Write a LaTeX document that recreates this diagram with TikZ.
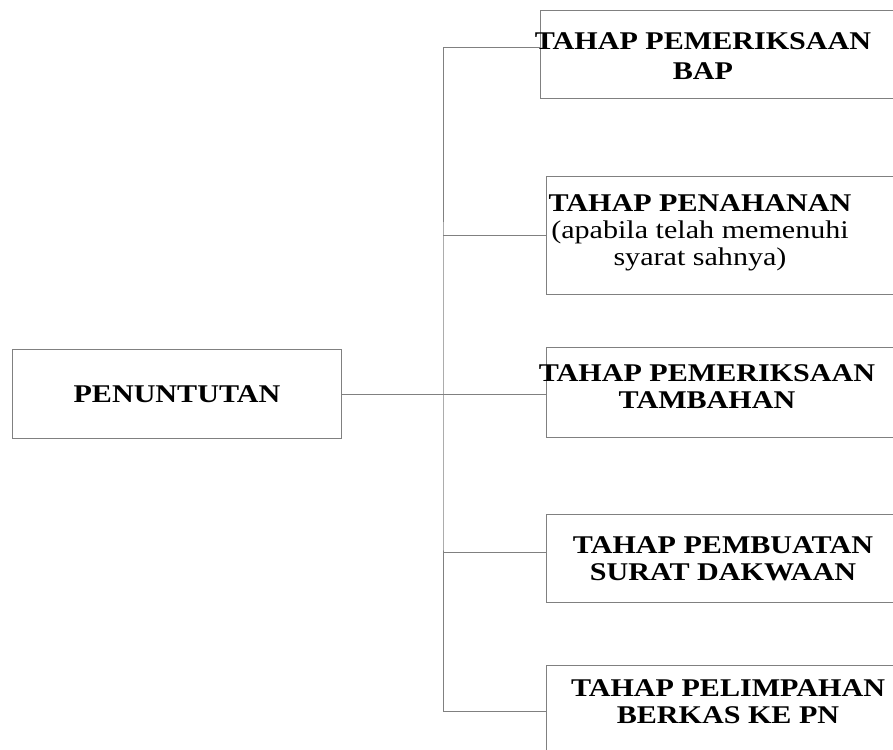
\documentclass[tikz,border=0pt]{standalone}
\usepackage{fontspec}
\setmainfont{Liberation Serif}[FakeStretch=1.18]
\usepackage{tikz}
\usetikzlibrary{positioning}
\definecolor{garisabu}{HTML}{808080}

\begin{document}
\begin{tikzpicture}[
  x=1pt, y=1pt,
  kotak/.style={draw=garisabu, line width=0.9pt, minimum width=364, inner sep=0pt, anchor=north west},
  teks/.style={align=center, font=\fontsize{25.5}{27}\selectfont, anchor=base, inner sep=0pt},
  garis/.style={draw=garisabu, line width=0.9pt}
]
  \useasboundingbox (0,0) rectangle (893,-749);
  \clip (0,0) rectangle (893,-749);

  % kotak kiri
  \node[kotak, minimum width=329, minimum height=89, font=\fontsize{25.5}{27}\selectfont\bfseries] (pnt) at (12,-349) {PENUNTUTAN};

  % kotak tahap (terpotong di kanan)
  \node[kotak, minimum width=370, minimum height=88] (b1) at (540,-10) {};
  \node[kotak, minimum height=118] (b2) at (546,-176) {};
  \node[kotak, minimum height=90] (b3) at (546,-347) {};
  \node[kotak, minimum height=88] (b4) at (546,-514) {};
  \node[kotak, minimum height=92] (b5) at (546,-665) {};

  % teks (base = baris terakhir)
  \node[teks, font=\fontsize{25.5}{30}\selectfont] (t1) at (703,-80) {\bfseries TAHAP PEMERIKSAAN\\\bfseries BAP};
  \node[teks] (t2) at (700,-265) {\bfseries TAHAP PENAHANAN\\(apabila telah memenuhi\\syarat sahnya)};
  \node[teks] (t3) at (707,-408) {\bfseries TAHAP PEMERIKSAAN\\\bfseries TAMBAHAN};
  \node[teks] (t4) at (723,-580) {\bfseries TAHAP PEMBUATAN\\\bfseries SURAT DAKWAAN};
  \node[teks] (t5) at (728,-723) {\bfseries TAHAP PELIMPAHAN\\\bfseries BERKAS KE PN};

  % penghubung
  \coordinate (cab) at (443,-393);
  \draw[garis] (pnt.east) -- (pnt.east -| b3.west);
  \draw[garis] ([yshift=7]b1.west) -| (cab) |- (b5.west);
  \draw[garis] (b2.west) -- (b2.west -| cab);
  \draw[garis] ([yshift=6]b4.west) -- ([yshift=6]b4.west -| cab);
\end{tikzpicture}
\end{document}
